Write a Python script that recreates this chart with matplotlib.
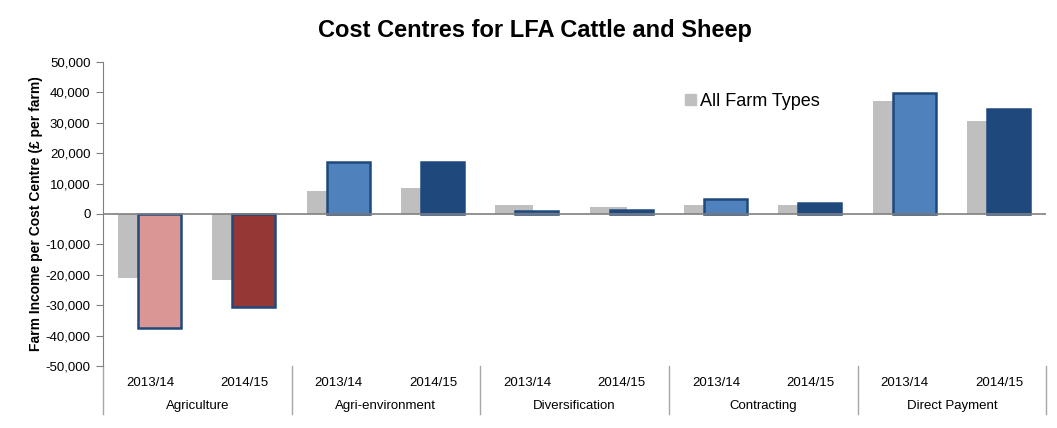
import matplotlib
matplotlib.use('Agg')
import matplotlib.pyplot as plt
from matplotlib.patches import Patch

plt.rcParams['font.family'] = ['Liberation Sans', 'DejaVu Sans']

# Données (£ par exploitation)
groups = ['Agriculture', 'Agri-environment', 'Diversification', 'Contracting', 'Direct Payment']
years = ['2013/14', '2014/15']
all_farm_types = [-21000, -21700, 7700, 8500, 3000, 2300, 3000, 2900, 37200, 30600]
lfa_cattle_sheep = [-37500, -30500, 17100, 17100, 1000, 1200, 4800, 3700, 39900, 34500]

bar_colors = ['#D99694', '#953735', '#4F81BD', '#1F497D', '#4F81BD', '#1F497D',
              '#4F81BD', '#1F497D', '#4F81BD', '#1F497D']

fig = plt.figure(figsize=(10.57, 4.28), dpi=100)
ax = fig.add_axes([0.0974, 0.1449, 0.8925, 0.7103])

x = list(range(len(all_farm_types)))
ax.bar([i - 0.14 for i in x], all_farm_types, width=0.40, color='#BFBFBF', zorder=2)
ax.bar([i + 0.10 for i in x], lfa_cattle_sheep, width=0.455, color=bar_colors,
       edgecolor='#1F497D', linewidth=1.8, zorder=3)

ax.set_xlim(-0.5, 9.5)
ax.set_ylim(-50000, 50000)
ax.set_yticks(range(-50000, 50001, 10000))
ax.set_yticklabels([f'{v:,}' for v in range(-50000, 50001, 10000)], fontsize=9.5)
ax.axhline(0, color='#808080', linewidth=1.2, zorder=4)

for s in ['top', 'right', 'bottom']:
    ax.spines[s].set_visible(False)
ax.spines['left'].set_color('#808080')
ax.tick_params(axis='y', length=5, color='#808080', pad=4)

ax.set_xticks(x)
ax.set_xticklabels(years * len(groups), fontsize=9.5)
ax.tick_params(axis='x', length=0, pad=8)

# Séparateurs et noms des groupes
trans = ax.get_xaxis_transform()
for b in [-0.5, 1.5, 3.5, 5.5, 7.5, 9.5]:
    ax.plot([b, b], [0, -0.158], color='#A6A6A6', linewidth=1, transform=trans, clip_on=False)
for k, g in enumerate(groups):
    ax.text(2 * k + 0.5, -0.132, g, ha='center', va='center', fontsize=9.5, transform=trans)

ax.set_ylabel('Farm Income per Cost Centre (£ per farm)', fontsize=10, fontweight='bold', labelpad=2)
fig.suptitle('Cost Centres for LFA Cattle and Sheep', fontsize=17, fontweight='bold', x=0.506, y=0.955)

ax.legend(handles=[Patch(color='#BFBFBF', label='All Farm Types')], loc='center left',
          bbox_to_anchor=(0.60, 0.87), frameon=False, fontsize=13,
          handlelength=0.6, handleheight=0.6, handletextpad=0.2)

fig.savefig('out.png', dpi=100)
